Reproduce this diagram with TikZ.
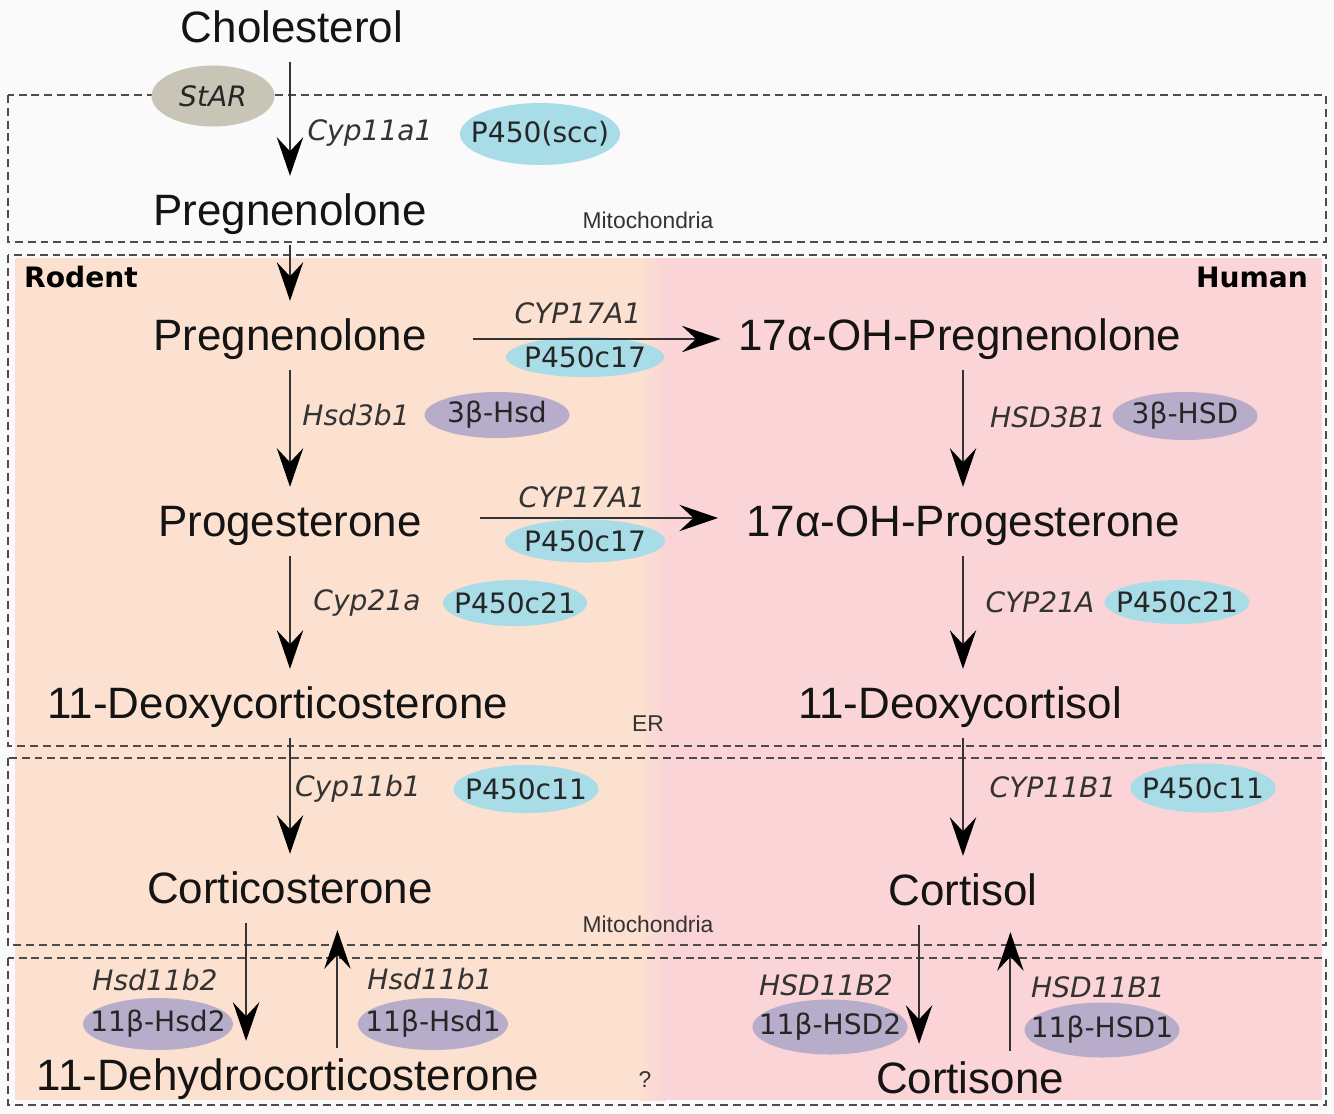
\documentclass[tikz,border=0pt]{standalone}
\usepackage{fontspec}
\setmainfont{Liberation Sans}
\newfontfamily\enzfont{DejaVu Sans}
\usetikzlibrary{arrows.meta,shapes.geometric}
\definecolor{pagebg}{HTML}{FAFAFA}
\definecolor{rodentbg}{HTML}{FCE1D0}
\definecolor{humanbg}{HTML}{FAD4D6}
\definecolor{encblue}{HTML}{A8DCE7}
\definecolor{enclav}{HTML}{B7ADCB}
\definecolor{encstar}{HTML}{C8C4B6}
\definecolor{boxgray}{HTML}{4C4C4C}

\begin{document}
\begin{tikzpicture}[x=0.02cm, y=-0.02cm,
    met/.style={font=\fontsize{25}{30}\selectfont, text=black!92, text height=18pt, text depth=5pt, inner sep=2pt},
    gene/.style={font=\enzfont\itshape\fontsize{16}{19}\selectfont, text=black!80},
    enz/.style={ellipse, inner xsep=-50pt, inner ysep=-20pt, font=\enzfont\fontsize{16}{19}\selectfont, text=black!85},
    comp/.style={font=\fontsize{13}{15}\selectfont, text=black!80},
    tag/.style={font=\enzfont\bfseries\fontsize{16}{19}\selectfont},
    membrane/.style={draw=boxgray, line width=1.6pt, dash pattern=on 4.5pt off 2.8pt},
    arr/.style={-{Stealth[length=22pt,width=15pt,inset=8pt,black]}, draw=black!80, line width=1.1pt, shorten <=4pt, shorten >=8pt}
]
    % Canvas and species backgrounds
    \fill[pagebg] (0,0) rectangle (1334,1113);
    \useasboundingbox (0,0) rectangle (1334,1113);
    \fill[rodentbg] (15,258) rectangle (640,1100);
    \fill[humanbg] (665,258) rectangle (1322,1100);
    \shade[left color=rodentbg, right color=humanbg] (639,258) rectangle (666,1100);

    % Compartments
    \draw[membrane] (8,95) rectangle (1326,242);
    \draw[membrane] (8,255) rectangle (1326,746);
    \draw[membrane] (8,758) rectangle (1326,945);
    \draw[membrane] (8,958) rectangle (1326,1105);
    \node[comp] (mito1) at (648,220) {Mitochondria};
    \node[comp] (er) at (648,724) {ER};
    \node[comp] (mito2) at (648,924) {Mitochondria};
    \node[comp] (unk) at (645,1080) {?};
    \node[tag, anchor=west] (rodent) at (18,277) {Rodent};
    \node[tag, anchor=east] (human) at (1314,277) {Human};

    % Steroids
    \node[met] (chol) at (292,31) {Cholesterol};
    \node[met] (preg1) at (290,214) {Pregnenolone};
    \node[met] (preg2) at (290,339) {Pregnenolone};
    \node[met] (prog) at (290,525) {Progesterone};
    \node[met] (doc) at (278,707) {11-Deoxycorticosterone};
    \node[met] (cort) at (290,892) {Corticosterone};
    \node[met] (dhc) at (288,1079) {11-Dehydrocorticosterone};
    \node[met] (ohpreg) at (960,339) {17α-OH-Pregnenolone};
    \node[met] (ohprog) at (963,525) {17α-OH-Progesterone};
    \node[met] (dcl) at (960,707) {11-Deoxycortisol};
    \node[met] (cortisol) at (963,894) {Cortisol};
    \node[met] (cortisone) at (970,1082) {Cortisone};

    % Genes and enzymes
    \node[enz, fill=encstar, minimum width=2.46cm, minimum height=1.22cm] (star) at (213,96) {\itshape StAR};
    \node[gene] (cyp11a1) at (370,133) {Cyp11a1};
    \node[enz, fill=encblue, minimum width=3.2cm, minimum height=1.24cm] (scc) at (540,134) {P450(scc)};
    \node[gene] (cyp17a) at (578,313) {CYP17A1};
    \node[enz, fill=encblue, minimum width=3.16cm, minimum height=0.8cm] (c17a) at (585,357) {P450c17};
    \node[gene] (cyp17b) at (582,497) {CYP17A1};
    \node[enz, fill=encblue, minimum width=3.2cm, minimum height=0.86cm] (c17b) at (585,541) {P450c17};
    \node[gene] (hsd3b1m) at (356,415) {Hsd3b1};
    \node[enz, fill=enclav, minimum width=2.9cm, minimum height=0.92cm] (hsdm) at (497,415) {3β-Hsd};
    \node[gene] (hsd3b1h) at (1048,417) {HSD3B1};
    \node[enz, fill=enclav, minimum width=2.9cm, minimum height=0.96cm] (hsdh) at (1185,416) {3β-HSD};
    \node[gene] (cyp21m) at (367,603) {Cyp21a};
    \node[enz, fill=encblue, minimum width=2.88cm, minimum height=0.92cm] (c21m) at (515,603) {P450c21};
    \node[gene] (cyp21h) at (1040,602) {CYP21A};
    \node[enz, fill=encblue, minimum width=2.9cm, minimum height=0.88cm] (c21h) at (1177,602) {P450c21};
    \node[gene] (cyp11m) at (358,789) {Cyp11b1};
    \node[enz, fill=encblue, minimum width=2.9cm, minimum height=0.96cm] (c11m) at (526,789) {P450c11};
    \node[gene] (cyp11h) at (1053,787) {CYP11B1};
    \node[enz, fill=encblue, minimum width=2.9cm, minimum height=0.98cm] (c11h) at (1203,788) {P450c11};
    \node[gene] (hsd11b2m) at (155,980) {Hsd11b2};
    \node[enz, fill=enclav, minimum width=3cm, minimum height=1.04cm] (hsd2m) at (158,1024) {11β-Hsd2};
    \node[gene] (hsd11b1m) at (430,979) {Hsd11b1};
    \node[enz, fill=enclav, minimum width=3cm, minimum height=1.04cm] (hsd1m) at (433,1024) {11β-Hsd1};
    \node[gene] (hsd11b2h) at (826,985) {HSD11B2};
    \node[enz, fill=enclav, minimum width=3.1cm, minimum height=1.1cm] (hsd2h) at (830,1027) {11β-HSD2};
    \node[gene] (hsd11b1h) at (1098,987) {HSD11B1};
    \node[enz, fill=enclav, minimum width=3.1cm, minimum height=1.1cm] (hsd1h) at (1102,1030) {11β-HSD1};

    % Reactions
    \draw[arr] (chol.south -| preg1) -- (preg1);
    \draw[arr] (preg1) -- (preg2);
    \draw[arr] (preg2) -- (prog);
    \draw[arr] (prog) -- (doc.north -| prog);
    \draw[arr] (doc.south -| cort) -- (cort);
    \draw[arr] ([xshift=-25pt]cort.south) -- ([xshift=-25pt]cort.south |- dhc.north);
    \draw[arr] ([xshift=27pt]cort.south |- dhc.north) -- ([xshift=27pt]cort.south);
    \draw[arr, shorten <=24pt] (preg2) -- (ohpreg);
    \draw[arr, shorten <=31pt, shorten >=14pt] ([yshift=4pt]prog.east) -- ([yshift=4pt]ohprog.west);
    \draw[arr] (ohpreg.south -| ohprog) -- (ohprog);
    \draw[arr] (ohprog) -- (dcl.north -| ohprog);
    \draw[arr] (dcl.south -| cortisol) -- (cortisol);
    \draw[arr] ([xshift=-25pt]cortisol.south) -- ([xshift=-25pt]cortisol.south |- cortisone.north);
    \draw[arr] ([xshift=27pt]cortisol.south |- cortisone.north) -- ([xshift=27pt]cortisol.south);
\end{tikzpicture}
\end{document}
